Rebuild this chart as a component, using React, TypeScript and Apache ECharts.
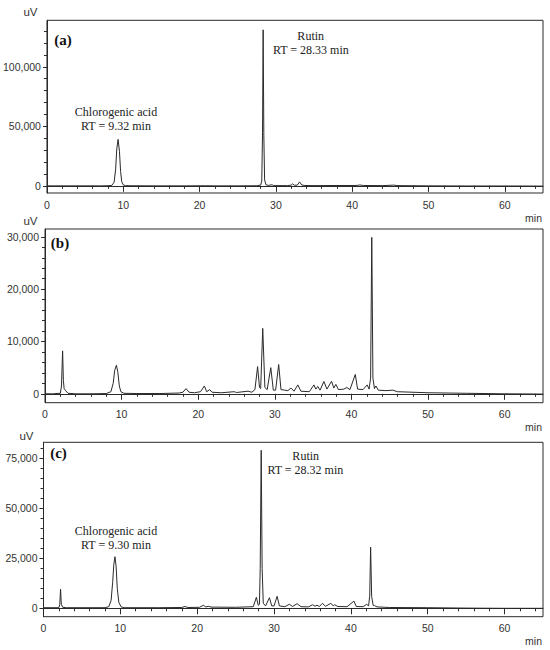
import React, { useEffect, useRef } from "react";
import * as echarts from "echarts";

// ---------- data (retention time in min, signal in uV) ----------
const timeA = [0, 1, 2, 3, 5, 7, 8, 8.5, 8.8, 9.0, 9.15, 9.32, 9.5, 9.65, 9.8, 10.0, 10.3, 11, 14, 18, 20.8, 22, 25, 27.5, 28.0, 28.15, 28.25, 28.33, 28.42, 28.52, 28.7, 29.0, 29.5, 29.7, 30, 31.5, 32.0, 32.2, 32.4, 32.8, 33.1, 33.4, 33.8, 35, 38, 40.5, 41, 41.5, 44, 45.4, 46, 50, 55, 60, 65];
const signalA = [0, 0, 0, 0, 0, 0, 100, 400, 3000, 14000, 31000, 39000, 29000, 12000, 3500, 800, 200, 100, 0, 0, 100, 0, 0, 100, 600, 4000, 45000, 131000, 42000, 5000, 900, 400, 900, 300, 200, 200, 600, 1700, 500, 600, 3300, 700, 300, 200, 300, 300, 700, 300, 200, 600, 200, 0, -100, -100, -200];

const timeB = [0, 1, 2.0, 2.15, 2.3, 2.4, 2.5, 2.7, 3.0, 4, 6, 8.0, 8.6, 8.9, 9.1, 9.32, 9.5, 9.7, 9.9, 10.3, 12, 15, 17.5, 18.0, 18.4, 18.8, 19.5, 20.3, 20.8, 21.1, 21.5, 21.8, 23, 24.7, 25, 26.5, 27.0, 27.4, 27.75, 28.0, 28.15, 28.42, 28.7, 29.0, 29.47, 29.8, 30.1, 30.5, 30.8, 31.3, 31.7, 32.1, 32.5, 33.0, 33.4, 34.5, 35.1, 35.35, 35.6, 35.9, 36.4, 36.8, 37.4, 37.7, 37.96, 38.3, 39.0, 39.4, 39.8, 40.5, 40.8, 41.5, 42.05, 42.3, 42.5, 42.65, 42.8, 43.0, 43.2, 43.5, 44.5, 45.4, 46, 50, 55, 60, 65];
const signalB = [0, 0, 100, 1500, 8200, 2500, 1000, 600, 100, 0, 0, 50, 400, 2000, 4500, 5450, 4200, 1500, 400, 100, 50, 50, 150, 300, 1000, 300, 200, 400, 1500, 400, 800, 300, 200, 400, 250, 500, 300, 800, 5200, 1200, 1000, 12500, 1200, 800, 5000, 700, 700, 5600, 800, 700, 600, 1100, 500, 1700, 500, 400, 1700, 900, 1400, 700, 2350, 900, 2400, 1100, 1800, 800, 900, 1200, 800, 3700, 900, 800, 1700, 900, 3000, 29900, 3000, 1000, 1500, 700, 600, 700, 400, 200, 100, 0, -50];

const timeC = [0, 2.0, 2.12, 2.22, 2.32, 2.5, 3, 8.0, 8.5, 8.8, 9.0, 9.15, 9.3, 9.45, 9.6, 9.8, 10.1, 10.5, 15, 18.0, 18.4, 18.8, 20.3, 20.8, 21.1, 21.5, 21.8, 25, 27.3, 27.7, 27.95, 28.1, 28.2, 28.33, 28.45, 28.6, 28.9, 29.4, 29.7, 30.0, 30.4, 30.7, 31.4, 32.0, 32.4, 33.0, 33.5, 34.5, 35.0, 35.3, 35.6, 35.9, 36.3, 36.7, 37.4, 37.7, 37.9, 38.3, 39.5, 40.4, 40.7, 41.6, 42.05, 42.3, 42.45, 42.57, 42.7, 42.9, 43.1, 43.4, 45, 50, 55, 60, 65];
const signalC = [300, 300, 2000, 9500, 2000, 500, 300, 300, 800, 4000, 13000, 22000, 25800, 21000, 10000, 3000, 700, 300, 300, 400, 900, 400, 500, 1500, 700, 1000, 600, 500, 800, 5500, 1500, 2000, 20000, 79000, 20000, 2500, 1200, 5300, 1200, 1200, 6000, 1200, 800, 2000, 900, 2300, 800, 700, 1800, 1100, 1500, 900, 2500, 1000, 2500, 1200, 1800, 900, 800, 3600, 900, 800, 2000, 1200, 6000, 30600, 6000, 1500, 1300, 700, 400, 300, 100, 0, 0];

const xTickLabels = [0, 10, 20, 30, 40, 50, 60];
const yTicksA = [0, 50000, 100000];
const yTicksB = [0, 10000, 20000, 30000];
const yTicksC = [0, 25000, 50000, 75000];

const panelLetters = ["(a)", "(b)", "(c)"];
const peakNames = ["Chlorogenic acid", "Rutin"];
const rtA = ["RT = 9.32 min", "RT = 28.33 min"];
const rtC = ["RT = 9.30 min", "RT = 28.32 min"];

const INK = "#2a2a2a";
const SANS = "'Liberation Sans', Arial, sans-serif";
const SERIF = "'Liberation Serif', 'Times New Roman', serif";

const pairs = (t: number[], v: number[]) => t.map((x, i) => [x, v[i]]);

function xAxisOf(gridIndex: number) {
  return {
    type: "value",
    gridIndex,
    min: 0,
    max: 65,
    interval: 10,
    axisLine: { show: true, lineStyle: { color: INK, width: 1 } },
    axisTick: { show: true, customValues: xTickLabels, length: 6, inside: false, lineStyle: { color: INK } },
    minorTick: { show: true, splitNumber: 5, length: 3, lineStyle: { color: INK } },
    axisLabel: { customValues: xTickLabels, margin: 6, fontSize: 10.5, color: "#333", fontFamily: SANS },
    splitLine: { show: false },
  };
}

function yAxisOf(gridIndex: number, min: number, max: number, step: number, ticks: number[]) {
  return {
    type: "value",
    gridIndex,
    min,
    max,
    minInterval: step,
    maxInterval: step,
    splitNumber: 3,
    axisLine: { show: true, lineStyle: { color: INK, width: 1 } },
    axisTick: { show: true, customValues: ticks, length: 4, lineStyle: { color: INK } },
    minorTick: { show: true, splitNumber: 5, length: 3, lineStyle: { color: INK } },
    axisLabel: {
      customValues: ticks,
      margin: 6,
      fontSize: 10.5,
      color: "#333",
      fontFamily: SANS,
      formatter: (v: number) => v.toLocaleString("en-US"),
    },
    splitLine: { show: false },
  };
}

function txt(x: number, y: number, text: string, opts: any = {}) {
  return {
    type: "text",
    x,
    y,
    style: {
      text,
      fill: opts.fill || "#222",
      font: opts.font || `12px ${SERIF}`,
      textAlign: opts.align || "center",
      textVerticalAlign: "middle",
    },
  };
}

export default function App() {
  const ref = useRef<HTMLDivElement>(null);
  useEffect(() => {
    document.body.style.margin = "0";
    if (!ref.current) return;
    const chart = echarts.init(ref.current, null, { renderer: "svg" });
    const gridStyle = { show: true, borderColor: INK, borderWidth: 1, backgroundColor: "transparent" };
    const lineSeries = (idx: number, data: number[][]) => ({
      type: "line",
      xAxisIndex: idx,
      yAxisIndex: idx,
      data,
      showSymbol: false,
      symbol: "none",
      lineStyle: { color: INK, width: 1 },
      clip: true,
    });
    chart.setOption({
      animation: false,
      backgroundColor: "#fff",
      grid: [
        { left: 45, top: 20.3, width: 498, height: 172.7, ...gridStyle },
        { left: 45, top: 229, width: 498, height: 173.7, ...gridStyle },
        { left: 43.5, top: 442.3, width: 499.5, height: 174.4, ...gridStyle },
      ],
      xAxis: [xAxisOf(0), xAxisOf(1), xAxisOf(2)],
      yAxis: [
        yAxisOf(0, -6000, 139000, 50000, yTicksA),
        yAxisOf(1, -1700, 31500, 10000, yTicksB),
        yAxisOf(2, -4200, 83000, 25000, yTicksC),
      ],
      series: [
        lineSeries(0, pairs(timeA, signalA)),
        lineSeries(1, pairs(timeB, signalB)),
        lineSeries(2, pairs(timeC, signalC)),
      ],
      graphic: [
        txt(63, 40, panelLetters[0], { font: `bold 15px ${SERIF}`, fill: "#111" }),
        txt(60, 243, panelLetters[1], { font: `bold 15px ${SERIF}`, fill: "#111" }),
        txt(58.5, 452.7, panelLetters[2], { font: `bold 15px ${SERIF}`, fill: "#111" }),
        txt(30.5, 11.7, "uV", { font: `11.5px ${SANS}`, fill: "#333" }),
        txt(30.5, 220.7, "uV", { font: `11.5px ${SANS}`, fill: "#333" }),
        txt(26.5, 435.7, "uV", { font: `11.5px ${SANS}`, fill: "#333" }),
        txt(542, 218.3, "min", { font: `10.5px ${SANS}`, fill: "#333", align: "right" }),
        txt(542, 426.7, "min", { font: `10.5px ${SANS}`, fill: "#333", align: "right" }),
        txt(542, 641, "min", { font: `10.5px ${SANS}`, fill: "#333", align: "right" }),
        txt(116, 111.7, peakNames[0]),
        txt(116, 126, rtA[0]),
        txt(310.7, 35.7, peakNames[1]),
        txt(310.8, 50, rtA[1]),
        txt(116, 530.7, peakNames[0]),
        txt(116, 545, rtC[0]),
        txt(305.7, 455.7, peakNames[1]),
        txt(305.3, 470, rtC[1]),
      ],
    });
    return () => chart.dispose();
  }, []);
  return <div ref={ref} style={{ width: 550, height: 650 }} />;
}
